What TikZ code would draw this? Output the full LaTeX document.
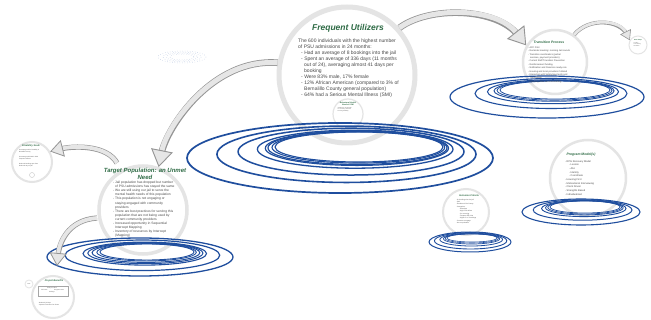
\documentclass[tikz,border=0pt]{standalone}
\usepackage{fontspec}
\setmainfont{Liberation Sans}
\usetikzlibrary{arrows.meta}
\definecolor{ttl}{HTML}{2E6B45}
\definecolor{rip}{HTML}{1F4E9E}
\definecolor{ringc}{HTML}{E4E4E4}
\definecolor{bodyc}{HTML}{4A4A4A}
\definecolor{arrfill}{HTML}{E6E6E6}
\definecolor{arrline}{HTML}{959595}
\tikzset{
  ringnode/.style={circle, draw=ringc, inner sep=0pt},
  ttlnode/.style={text=ttl, font=\bfseries\itshape, inner sep=0pt, align=center},
  bodynode/.style={text=bodyc, inner sep=0pt, align=left, anchor=north west},
  garrowL/.style={line width=5pt, draw=arrfill,
    -{Triangle[length=17pt,width=22pt,fill=arrfill,color=arrline,line width=0.9pt]},
    preaction={draw=arrline, line width=6.6pt, -, shorten >=13pt}},
  garrowM/.style={line width=3.8pt, draw=arrfill,
    -{Triangle[length=13pt,width=17pt,fill=arrfill,color=arrline,line width=0.8pt]},
    preaction={draw=arrline, line width=5.2pt, -, shorten >=10pt}},
  garrowS/.style={line width=2.8pt, draw=arrfill,
    -{Triangle[length=9.5pt,width=12pt,fill=arrfill,color=arrline,line width=0.6pt]},
    preaction={draw=arrline, line width=3.9pt, -, shorten >=7pt}},
}
\begin{document}
\begin{tikzpicture}[x=1pt,y=-1pt]
\useasboundingbox (0,0) rectangle (651,320);
\fill[white] (0,0) rectangle (651,320);

% ---------- rings (topic circles) ----------
\node[ringnode, line width=5pt, minimum size=136pt] (freq) at (347,75) {};
\node[ringnode, line width=1.2pt, minimum size=30pt] (bhn) at (348,114) {};
\node[ringnode, line width=3.5pt, minimum size=88pt] (tgt) at (143,210) {};
\node[ringnode, line width=2.5pt, minimum size=64pt] (trans) at (555,62) {};
\node[ringnode, line width=2.5pt, minimum size=76pt] (prog) at (588,178) {};
\node[ringnode, line width=2pt, minimum size=46pt] (incl) at (466,212) {};
\node[ringnode, line width=2pt, minimum size=40pt] (disab) at (32,162) {};
\node[ringnode, line width=2pt, minimum size=42pt] (mayor) at (53,297) {};
\node[ringnode, line width=0.8pt, minimum size=8pt] (mayori) at (29,284) {};
\node[ringnode, line width=1pt, minimum size=18pt] (topr) at (638,45) {};

% ---------- ripples ----------
\foreach \t/\w in {0/1.1,0.034/1.1,0.08/1.2,0.11/1.2,0.2/1.3,0.42/1.5,0.66/1.6,1/1.7}
  \draw[rip, line width=\w pt] ({359-19*\t},{147+11*\t}) ellipse [x radius={84+69*\t}, y radius={15+20*\t}];
\foreach \t/\w in {0/0.9,0.06/0.9,0.15/1,0.23/1,0.32/1.1,0.66/1.2,1/1.3}
  \draw[rip, line width=\w pt] ({147-7*\t},{252+5*\t}) ellipse [x radius={47+46*\t}, y radius={8+11*\t}];
\foreach \t/\w in {0/0.8,0.06/0.8,0.12/0.9,0.25/1,0.5/1.1,1/1.2}
  \draw[rip, line width=\w pt] ({555-8*\t},{90+7*\t}) ellipse [x radius={55+42*\t}, y radius={9+12*\t}];
\foreach \t/\w in {0/0.7,0.08/0.7,0.16/0.8,0.3/0.9,0.6/1,1/1.1}
  \draw[rip, line width=\w pt] ({585-4*\t},{207+5*\t}) ellipse [x radius={35+24*\t}, y radius={6+7*\t}];
\foreach \t/\w in {0/0.6,0.1/0.6,0.2/0.7,0.4/0.8,0.7/0.9,1/1}
  \draw[rip, line width=\w pt] ({472-2*\t},{238+4*\t}) ellipse [x radius={25+16*\t}, y radius={4+6*\t}];
\foreach \t in {0,0.3,0.6,1}
  \draw[rip!30, line width=0.5pt, dotted] ({182},{57}) ellipse [x radius={12+12*\t}, y radius={3+3*\t}];

% ---------- texts ----------
\node[ttlnode, font=\fontsize{8.5}{10}\selectfont\bfseries\itshape] (ftitle) at (348,28) {Frequent Utilizers};
\node[bodynode, font=\fontsize{5}{6.05}\selectfont] (ftxt) at (298,38.4) {%
The 600 individuals with the highest number\\
of PSU admissions in 24 months:\\
\hspace*{3pt}- Had an average of 8 bookings into the jail\\
\hspace*{3pt}- Spent an average of 336 days (11 months\\
\hspace*{6pt}out of 24), averaging almost 41 days per\\
\hspace*{6pt}booking\\
\hspace*{3pt}- Were 83\% male, 17\% female\\
\hspace*{3pt}- 12\% African American (compared to 3\% of\\
\hspace*{6pt}Bernalillo County general population)\\
\hspace*{3pt}- 64\% had a Serious Mental Illness (SMI)};
\node[ttlnode, font=\fontsize{1.9}{2.2}\selectfont\bfseries\itshape] (bhnt) at (348,104) {Behavioral Health\\Needs \& SMI};
\node[bodynode, font=\fontsize{1.3}{1.8}\selectfont] (bhnx) at (337,107) {- Substance use disorder\\- Co-occurring disorders\\- Housing instability};

\node[ttlnode, font=\fontsize{6}{7}\selectfont\bfseries\itshape] (ttitle) at (145,173.5) {Target Population: an Unmet\\Need};
\node[bodynode, font=\fontsize{3.3}{4.1}\selectfont] (ttxt) at (113,181) {%
- Jail population has dropped but number\\
\hspace*{2pt}of PSU admissions has stayed the same\\
- We are still using our jail to serve the\\
\hspace*{2pt}mental health needs of this population\\
- This population is not engaging or\\
\hspace*{2pt}staying engaged with community\\
\hspace*{2pt}providers\\
- There are best practices for serving this\\
\hspace*{2pt}population that are not being used by\\
\hspace*{2pt}current community providers\\
- Increased opportunity in Sequential\\
\hspace*{2pt}Intercept Mapping\\
- Inventory of resources by Intercept\\
\hspace*{2pt}(Mapping)};

\node[ttlnode, font=\fontsize{3.4}{4}\selectfont\bfseries\itshape] (trt) at (549,42) {Transition Process};
\node[bodynode, font=\fontsize{2.3}{3.4}\selectfont] (trx) at (528,46.5) {%
- APC Pilot\\
- Reminder meeting: morning Jail rounds\\
- Transition coordinators (partial\\
\hspace*{2pt}services, payment providers)\\
- Current Staff Transition Prevention\\
- Reinforcement funding\\
- Notification and Diversion ready rule\\
- Housing and local providers Collated\\
- Interaction with Safety/payments and\\
\hspace*{2pt}Technology\\
- Planning other services/staffing};

\node[ttlnode, font=\fontsize{3.4}{4}\selectfont\bfseries\itshape] (prt) at (581,155) {Program Model(s)};
\node[bodynode, font=\fontsize{2.5}{3.7}\selectfont] (prx) at (565,160) {%
- RPG Recovery Model\\
\hspace*{4pt}- Lesson\\
\hspace*{4pt}- Abc\\
\hspace*{4pt}- Identity\\
\hspace*{4pt}- Coordinate\\
- Housing First\\
- Motivational Interviewing\\
- Client Driven\\
- Strengths Based\\
- Individualized};

\node[ttlnode, font=\fontsize{2.4}{3}\selectfont\bfseries\itshape] (inct) at (469,196) {Inclusion Criteria};
\node[bodynode, font=\fontsize{1.6}{2.3}\selectfont] (incx) at (456,199) {%
- 8+ bookings into the jail\\
- SMI\\
- Resident of the County\\
- Categories:\\
\hspace*{3pt}- Homeless\\
\hspace*{3pt}- High PSU utilizer\\
\hspace*{3pt}- Co-occurring\\
\hspace*{3pt}- Frequent ER visits\\
\hspace*{3pt}- Higher 2 or 3 bookings\\
- Consent to engage\\
- Not on probation};

\node[ttlnode, font=\fontsize{2.4}{3}\selectfont\bfseries\itshape] (dist) at (31,146) {Disability Scale};
\node[bodynode, font=\fontsize{1.5}{2.3}\selectfont] (disx) at (19,149) {%
Percentage with a Disability in\\
Bernalillo County\\
\\
Percentage with SMI in PSU\\
Frequent Utilizers\\
\\
Reduced bookings per client\\
Reduced days in jail};
\node[ringnode, draw=gray!45, line width=0.4pt, minimum size=5pt] (disi) at (32,175) {};

\node[ttlnode, font=\fontsize{2.4}{3}\selectfont\bfseries\itshape] (mat) at (54,281) {Project Benefits};
\draw[gray!70, line width=0.4pt] (38,286) rectangle (68,296);
\node[bodynode, font=\fontsize{1.5}{2}\selectfont] (max) at (41,287.5) {%
\hspace*{6pt}Cost per client\\
Jail costs \hspace*{6pt} Program costs\\
\hspace*{8pt}Savings};
\node[bodynode, font=\fontsize{1.5}{2.2}\selectfont] (may) at (38,302) {%
- Reduced jail days\\
- Improved outcomes for clients};
\node[font=\fontsize{1.3}{1.8}\selectfont, text=bodyc, inner sep=0pt] (mai) at (29,284) {BSU};

\node[ttlnode, font=\fontsize{1.5}{2}\selectfont\bfseries\itshape] (toprt) at (638,40) {Next Steps};
\node[bodynode, font=\fontsize{1.2}{1.7}\selectfont] (toprx) at (633,42) {- Funding\\- Data sharing\\- Evaluation};

% ---------- arrows ----------
\coordinate (a3s) at (117,163);
\coordinate (a4s) at (97,218);
\coordinate (a4e) at (57,266);
\draw[garrowL] (freq.42) .. controls +(30,-22) and +(-30,-38) .. (trans.150);
\draw[garrowL] (freq.170) .. controls +(-65,-5) and +(8,-40) .. (tgt.70);
\draw[garrowM] (a3s) .. controls +(-10,-18) and +(24,-6) .. (disab.30);
\draw[garrowM] (a4s) .. controls +(-30,2) and +(2,-22) .. (a4e);
\draw[garrowS] (trans.55) .. controls +(15,-18) and +(-10,-20) .. (topr.150);

\end{tikzpicture}
\end{document}
